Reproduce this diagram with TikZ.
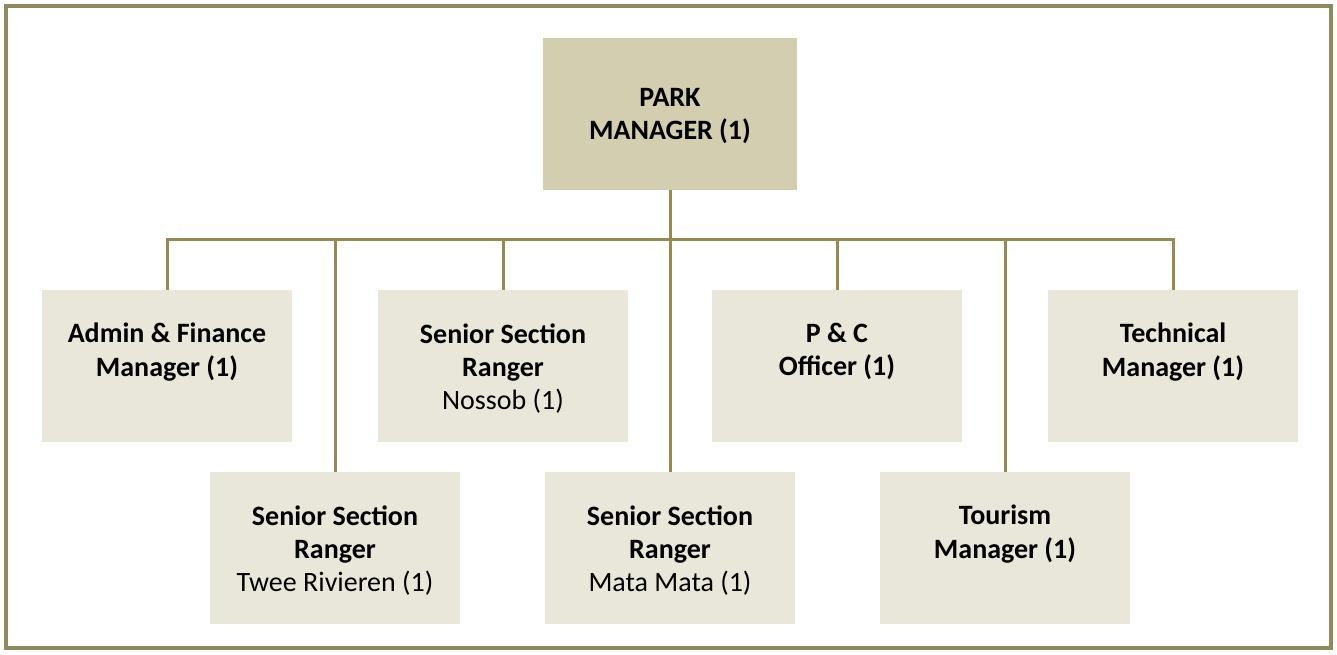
\documentclass[tikz,border=0pt]{standalone}
\usepackage{fontspec}
\setmainfont{Carlito}
\usepackage{xcolor}

\definecolor{olive}{HTML}{948A54}
\definecolor{frame}{HTML}{8C8A5E}
\definecolor{tan}{HTML}{D3CEB0}
\definecolor{pale}{HTML}{E9E6DA}

\begin{document}
\begin{tikzpicture}[x=0.75pt, y=-0.75pt,
	every node/.style={font=\fontsize{21}{25}\selectfont},
	topbox/.style={fill=tan, minimum width=190pt, minimum height=114pt, align=center, inner sep=0pt},
	staffbox/.style={fill=pale, inner sep=0pt,
		execute at begin node={\begin{minipage}[t][114pt][t]{187.5pt}\centering\vspace*{25pt}},
		execute at end node={\end{minipage}}},
	link/.style={draw=olive, line width=2.25pt}]
		\useasboundingbox (0,0) rectangle (1337,655);
		\draw[frame, line width=3pt] (6,6) rectangle (1331,648);

		\node[topbox, text depth=-3pt] (park) at (670,114) {\bfseries PARK\\\bfseries MANAGER (1)};
		\coordinate (bus) at (670,240);

		% first row
		\node[staffbox] (admin) at (167,366) {\textbf{Admin \& Finance}\\\textbf{Manager (1)}};
		\node[staffbox] (nossob) at (503,366) {\textbf{Senior Section}\\\textbf{Ranger}\\Nossob (1)};
		\node[staffbox] (pc) at (837,366) {\textbf{P \& C}\\\textbf{Officer (1)}};
		\node[staffbox] (tech) at (1173,366) {\textbf{Technical}\\\textbf{Manager (1)}};

		% second row
		\node[staffbox] (twee) at (335,548) {\textbf{Senior Section}\\\textbf{Ranger}\\Twee Rivieren (1)};
		\node[staffbox] (mata) at (670,548) {\textbf{Senior Section}\\\textbf{Ranger}\\Mata Mata (1)};
		\node[staffbox] (tour) at (1005,548) {\textbf{Tourism}\\\textbf{Manager (1)}};

		\foreach \n in {admin,twee,nossob,mata,pc,tour,tech}
			\draw[link] (park.south) -- (bus) -| (\n.north);
\end{tikzpicture}
\end{document}
